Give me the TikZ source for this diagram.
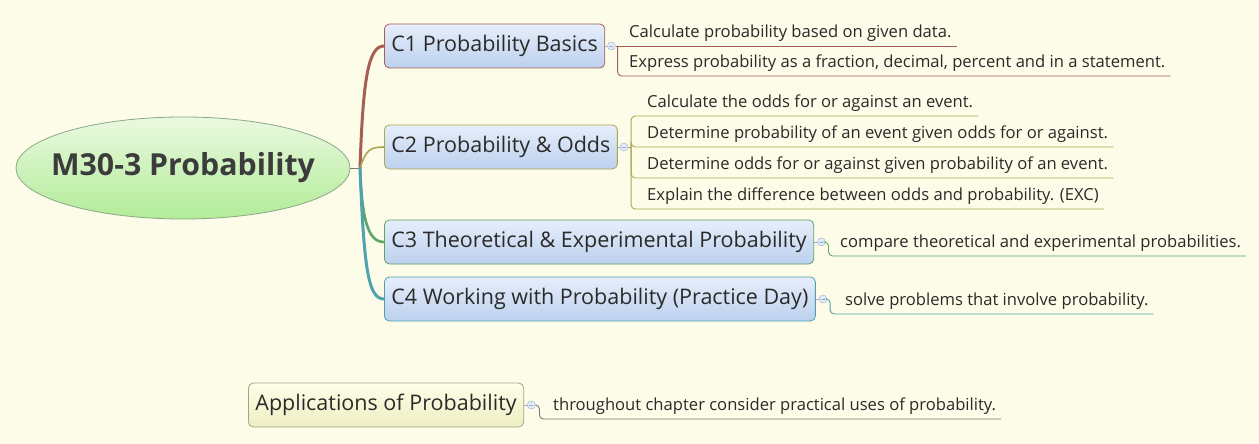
\documentclass[tikz,border=0pt]{standalone}
\usepackage{fontspec}
\setmainfont{Open Sans}
\usetikzlibrary{shapes.geometric,positioning}

\definecolor{paper}{HTML}{FCFCE8}
\definecolor{ink}{HTML}{2A2A2A}
\definecolor{rootink}{HTML}{3C3C3C}
\definecolor{roottop}{HTML}{EAF9E0}
\definecolor{rootbot}{HTML}{B2EC98}
\definecolor{rootline}{HTML}{8CA88A}
\definecolor{topictop}{HTML}{E6EEFA}
\definecolor{topicbot}{HTML}{BCD0EE}
\definecolor{apptop}{HTML}{FEFEEA}
\definecolor{appbot}{HTML}{EEEEC2}
\definecolor{appline}{HTML}{A8A282}
\definecolor{togline}{HTML}{98AECC}
\definecolor{togfill}{HTML}{E2ECF8}
\definecolor{cone}{HTML}{A65E55}
\definecolor{ctwo}{HTML}{A8A850}
\definecolor{cthree}{HTML}{5FA468}
\definecolor{cfour}{HTML}{4FA2AE}
\definecolor{cgray}{HTML}{7A7A72}

\begin{document}
\begin{tikzpicture}[x=1pt,y=-1pt,
  centre/.style={ellipse,draw=rootline,line width=0.8pt,top color=roottop,bottom color=rootbot,
    inner xsep=-14pt,inner ysep=0pt,minimum width=334pt,minimum height=102pt,
    text=rootink,font=\fontsize{30.3}{34}\selectfont\bfseries},
  topicbox/.style={rounded corners=5pt,draw=#1,line width=0.8pt,top color=topictop,bottom color=topicbot,
    minimum height=44pt,inner xsep=7pt,anchor=west,text=ink,font=\fontsize{21.5}{26}\selectfont},
  appbox/.style={topicbox=appline,top color=apptop,bottom color=appbot},
  subline/.style={anchor=south west,inner xsep=5pt,inner ysep=3.5pt,text depth=4.5pt,
    text=ink,font=\fontsize{16.6}{20}\selectfont},
  toggle/.style={circle,draw=togline,fill=togfill,minimum size=8pt,inner sep=0pt,
    path picture={\draw[togline] ([xshift=-2pt]path picture bounding box.center)
      -- ([xshift=2pt]path picture bounding box.center);}},
  twig/.style={draw=#1,line width=0.9pt,rounded corners=4pt},
  branch/.style={line width=#1,line cap=round}]

  %background
  \fill[paper] (0,0) rectangle (1259,444);
  \useasboundingbox (0,0) rectangle (1259,444);

  %central topic
  \node[centre] (root) at (183,168) {M30-3 Probability};
  \coordinate (hub) at (360,168);
  \draw[cgray,line width=0.8pt] (root.east) -- (hub);

  %main topics
  \node[topicbox=cone] (c1) at (384,46) {C1 Probability Basics};
  \node[topicbox=ctwo] (c2) at (384,147) {C2 Probability \& Odds};
  \node[topicbox=cthree] (c3) at (384,242) {C3 Theoretical \& Experimental Probability};
  \node[topicbox=cfour] (c4) at (384,299) {C4 Working with Probability (Practice Day)};
  \node[appbox] (apps) at (248,405) {Applications of Probability};

  %branches
  \draw[cone,branch=3pt] (hub) .. controls (363,80) and (368,46) .. (c1.west);
  \draw[ctwo,branch=1.6pt] (hub) .. controls (366,150) and (370,147) .. (c2.west);
  \draw[cthree,branch=2.6pt] (hub) .. controls (362,220) and (368,242) .. (c3.west);
  \draw[cfour,branch=3pt] (hub) .. controls (364,268) and (368,299) .. (c4.west);

  %toggles
  \node[toggle,right=2pt of c1] (t1) {};
  \node[toggle,right=2pt of c2] (t2) {};
  \node[toggle,right=3pt of c3] (t3) {};
  \node[toggle,right=3pt of c4] (t4) {};
  \node[toggle,right=3pt of apps] (t5) {};
  \foreach \n in {1,2,3,4}
    \draw[togline,line width=0.8pt] (c\n.east) -- (t\n.west);
  \draw[togline,line width=0.8pt] (apps.east) -- (t5.west);

  %subtopics of C1
  \coordinate (s1) at ([xshift=2pt]t1.east);
  \node[subline] (l11) at (624,46) {Calculate probability based on given data.};
  \node[subline] (l12) at (624,76) {Express probability as a fraction, decimal, percent and in a statement.};
  \draw[twig=cone] (t1.east) -- (l11.south east);
  \draw[twig=cone] (s1) |- (l12.south east);

  %subtopics of C2
  \coordinate (s2) at ([xshift=3pt]t2.east);
  \node[subline] (l21) at (642,116) {Calculate the odds for or against an event.};
  \node[subline] (l22) at (642,147) {Determine probability of an event given odds for or against.};
  \node[subline] (l23) at (642,178) {Determine odds for or against given probability of an event.};
  \node[subline] (l24) at (642,209) {Explain the difference between odds and probability. (EXC)};
  \draw[twig=ctwo] (t2.east) -- (s2);
  \foreach \n in {1,2,3,4}
    \draw[twig=ctwo] (s2) |- (l2\n.south east);

  %subtopics of C3 and C4
  \coordinate (s3) at ([xshift=3pt]t3.east);
  \node[subline] (l31) at (835,256) {compare theoretical and experimental probabilities.};
  \draw[twig=cthree] (t3.east) -- (s3) |- (l31.south east);
  \coordinate (s4) at ([xshift=3pt]t4.east);
  \node[subline] (l41) at (840,314) {solve problems that involve probability.};
  \draw[twig=cfour] (t4.east) -- (s4) |- (l41.south east);

  %subtopic of applications
  \coordinate (s5) at ([xshift=4pt]t5.east);
  \node[subline] (l51) at (548,419) {throughout chapter consider practical uses of probability.};
  \draw[twig=cgray] (t5.east) -- (s5) |- (l51.south east);
\end{tikzpicture}
\end{document}
